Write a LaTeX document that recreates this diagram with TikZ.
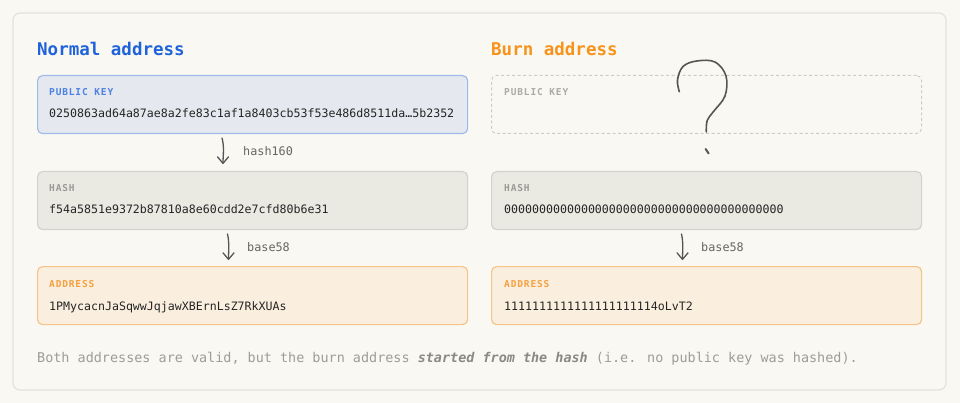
\documentclass[tikz,border=0pt]{standalone}
\usepackage{fontspec}
\setmonofont{DejaVu Sans Mono}
\newfontfamily\monof{DejaVu Sans Mono}
\newfontfamily\lblmono[LetterSpace=9]{DejaVu Sans Mono}
\usetikzlibrary{arrows.meta}
\definecolor{bgc}{HTML}{F9F8F2}
\definecolor{framec}{HTML}{E3E2DA}
\definecolor{pkfill}{HTML}{E5E9EF}
\definecolor{pkborder}{HTML}{9FBBEA}
\definecolor{pklbl}{HTML}{4C80E2}
\definecolor{hfill}{HTML}{EAEAE2}
\definecolor{hborder}{HTML}{D3D3CB}
\definecolor{hlbl}{HTML}{9B9B95}
\definecolor{afill}{HTML}{FAEFDF}
\definecolor{aborder}{HTML}{F6C488}
\definecolor{albl}{HTML}{F5A03E}
\definecolor{bluet}{HTML}{1F63DA}
\definecolor{oranget}{HTML}{F7931A}
\definecolor{valtext}{HTML}{252525}
\definecolor{arrowc}{HTML}{555555}
\definecolor{optext}{HTML}{66665F}
\definecolor{dashc}{HTML}{CDCDC6}
\definecolor{greylbl}{HTML}{ABABA6}
\definecolor{foot}{HTML}{9D9D97}
\definecolor{footb}{HTML}{8A8A85}
\begin{document}
\begin{tikzpicture}[x=1pt,y=-1pt,
  frame/.style={draw=framec, fill=bgc, line width=1.2pt, rounded corners=7pt, minimum width=933pt, minimum height=377pt, inner sep=0pt},
  box/.style={rounded corners=5pt, line width=1.2pt, minimum width=430pt, minimum height=58pt, anchor=north west, inner sep=0pt},
  pkbox/.style={box, draw=pkborder, fill=pkfill},
  dashbox/.style={box, draw=dashc, dash pattern=on 3pt off 2.5pt, line width=1pt},
  hbox/.style={box, draw=hborder, fill=hfill},
  abox/.style={box, draw=aborder, fill=afill},
  title/.style={anchor=base west, inner sep=0pt, font=\monof\bfseries\fontsize{17.5}{20}\selectfont},
  lbl/.style={anchor=base west, inner sep=0pt, font=\lblmono\bfseries\fontsize{9.5}{11}\selectfont},
  val/.style={anchor=base west, inner sep=0pt, text=valtext, font=\monof\fontsize{11.6}{14}\selectfont},
  oplbl/.style={anchor=base west, inner sep=0pt, text=optext, font=\monof\fontsize{11.8}{14}\selectfont},
  flow/.style={draw=arrowc, line width=1.3pt, line cap=round, -{Straight Barb[length=6.5pt,width=11pt,round]}},
  qmark/.style={draw=arrowc, line width=1.6pt, line cap=round, line join=round},
  footer/.style={anchor=base west, inner sep=0pt, text=foot, font=\monof\fontsize{13.45}{16}\selectfont}
]
\useasboundingbox (0,0) rectangle (960,403);
\fill[bgc] (0,0) rectangle (960,403);
\node[frame] (frame) at (479.5,201.5) {};

% titles
\node[title, text=bluet] (t1) at (37,55.7) {Normal address};
\node[title, text=oranget] (t2) at (491,55.7) {Burn address};

% left column
\node[pkbox] (pk1) at (37,75) {};
\node[lbl, text=pklbl] (pk1l) at (49,96) {PUBLIC KEY};
\node[val] (pk1v) at (49,117.5) {0250863ad64a87ae8a2fe83c1af1a8403cb53f53e486d8511da…5b2352};

\node[hbox] (h1) at (37,171) {};
\node[lbl, text=hlbl] (h1l) at (49,192) {HASH};
\node[val] (h1v) at (49,214) {f54a5851e9372b87810a8e60cdd2e7cfd80b6e31};

\node[abox] (a1) at (37,266) {};
\node[lbl, text=albl] (a1l) at (49,287.3) {ADDRESS};
\node[val] (a1v) at (49,310) {1PMycacnJaSqwwJqjawXBErnLsZ7RkXUAs};

% right column
\node[dashbox] (pk2) at (491,75) {};
\node[lbl, text=greylbl] (pk2l) at (504,96) {PUBLIC KEY};

\node[hbox] (h2) at (491,171) {};
\node[lbl, text=hlbl] (h2l) at (504,192) {HASH};
\node[val] (h2v) at (504,214) {0000000000000000000000000000000000000000};

\node[abox] (a2) at (491,266) {};
\node[lbl, text=albl] (a2l) at (504,287.3) {ADDRESS};
\node[val] (a2v) at (504,310) {1111111111111111111114oLvT2};

% arrows
\coordinate (s1) at (222,138);
\coordinate (e1) at (223,164);
\draw[flow] (s1) .. controls (224.5,147) and (223,155) .. (e1);
\node[oplbl] (op1) at (243,156) {hash160};

\coordinate (s2) at (227.5,234);
\coordinate (e2) at (228.5,260);
\draw[flow] (s2) .. controls (229.5,243) and (228.5,251) .. (e2);
\node[oplbl] (op2) at (247,251.3) {base58};

\coordinate (s3) at (681.5,234);
\coordinate (e3) at (682.5,260);
\draw[flow] (s3) .. controls (683.5,243) and (682.5,251) .. (e3);
\node[oplbl] (op3) at (701,251.3) {base58};

% question mark
\draw[qmark] plot[smooth, tension=0.6] coordinates {(679.3,91.7) (677.5,80) (683,66.5) (696.7,61) (715,62) (726,76) (725,96) (713.5,111.5) (707.2,120.5) (706.3,132)};
\draw[qmark, line width=2pt] (705.6,149) -- (708.6,153.4);

% footer
\node[footer] (foot) at (37,362) {Both addresses are valid, but the burn address {\color{footb}\bfseries\itshape started from the hash} (i.e. no public key was hashed).};
\end{tikzpicture}
\end{document}
